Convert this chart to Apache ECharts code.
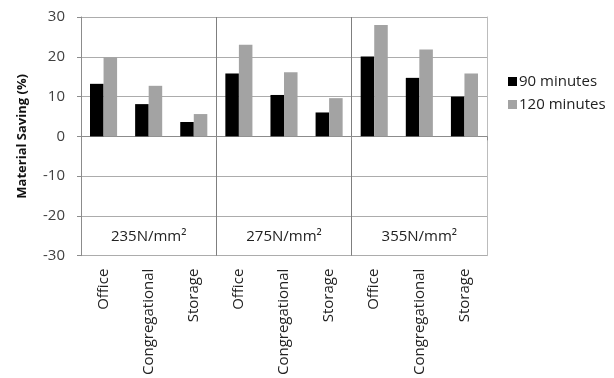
<!DOCTYPE html>
<html>
<head>
<meta charset="utf-8">
<script src="https://cdn.jsdelivr.net/npm/echarts@6/dist/echarts.min.js"></script>
<style>html,body{margin:0;padding:0;background:#fff}#c{width:614px;height:378px}</style>
</head>
<body>
<div id="c"></div>
<script>
const categories = ['Office','Congregational','Storage','Office','Congregational','Storage','Office','Congregational','Storage'];
const groups = ['235N/mm²','275N/mm²','355N/mm²'];
const min90 = [13.2, 8.1, 3.6, 15.8, 10.4, 6.0, 20.1, 14.7, 10.0];
const min120 = [19.9, 12.7, 5.6, 23.0, 16.1, 9.6, 28.0, 21.8, 15.8];
const seriesNames = ['90 minutes','120 minutes'];
const yMin = -30, yMax = 30, yStep = 10;

const FONT = 'Open Sans';
const chart = echarts.init(document.getElementById('c'), null, {renderer:'canvas'});
chart.setOption({
  animation:false,
  textStyle:{fontFamily:FONT},
  grid:{left:81,right:127,top:17,bottom:121},
  legend:{
    orient:'vertical', left:503, top:69, itemGap:8, itemWidth:9, itemHeight:9,
    icon:'rect',
    textStyle:{fontFamily:FONT,fontSize:15,color:'#222',padding:[0,0,0,-3]},
    data:seriesNames
  },
  xAxis:[
    {type:'category',data:categories,position:'bottom',axisLine:{show:false,onZero:false},
     axisTick:{show:false},
     axisLabel:{rotate:90,margin:13,fontFamily:FONT,fontSize:15,color:'#222',interval:0},
     splitLine:{show:true,interval:function(i){return i%3===0;},lineStyle:{color:'#7f7f7f',width:1}}},
    {type:'category',data:categories,position:'bottom',
     axisLine:{show:true,onZero:true,lineStyle:{color:'#8c8c8c'}},
     axisTick:{show:true,length:4,lineStyle:{color:'#8c8c8c'}},
     axisLabel:{show:false},splitLine:{show:false}},
    {type:'category',data:groups,position:'bottom',axisLine:{show:false,onZero:false},
     axisTick:{show:false},
     axisLabel:{inside:true,margin:11,fontFamily:FONT,fontSize:15,color:'#222'},
     splitLine:{show:false}}
  ],
  yAxis:[{
    type:'value',min:yMin,max:yMax,interval:yStep,
    name:'Material Saving (%)',nameLocation:'middle',nameRotate:90,nameGap:52,
    nameTextStyle:{fontFamily:FONT,fontSize:13,fontWeight:'bold',color:'#111'},
    axisLine:{show:true,lineStyle:{color:'#8c8c8c'}},
    axisTick:{show:true,length:4,lineStyle:{color:'#8c8c8c'}},
    axisLabel:{fontFamily:FONT,fontSize:15,color:'#404040',margin:16},
    splitLine:{show:true,lineStyle:{color:'#acacac',width:1}}
  },{
    type:'value',min:yMin,max:yMax,interval:yStep,position:'right',
    axisLine:{show:true,lineStyle:{color:'#bcbcbc'}},
    axisTick:{show:false},axisLabel:{show:false},splitLine:{show:false}
  }],
  series:[
    {name:seriesNames[0],type:'bar',data:min90,xAxisIndex:0,barGap:'0%',barCategoryGap:'40%',
     itemStyle:{color:'#000000'}},
    {name:seriesNames[1],type:'bar',data:min120,xAxisIndex:0,barGap:'0%',barCategoryGap:'40%',
     itemStyle:{color:'#a3a3a3'}}
  ]
});
</script>
</body>
</html>
